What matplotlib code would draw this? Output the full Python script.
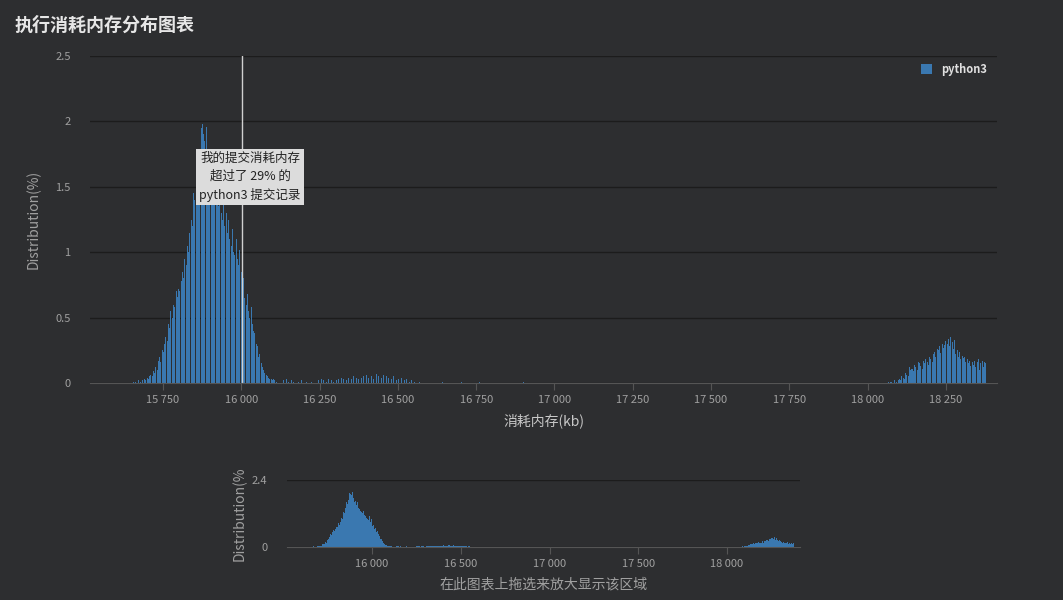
import matplotlib.pyplot as plt
import numpy as np

plt.rcParams['font.family'] = ['Noto Sans CJK SC', 'DejaVu Sans']

# 主峰 (4 kb 一档, 从 15650 开始)
main_start = 15650
main_vals = [0, 0.01, 0, 0.01, 0, 0.02, 0, 0.01, 0.02, 0, 0.03, 0.02, 0.04, 0.03, 0.05,
             0.06, 0.05, 0.09, 0.08, 0.12, 0.1, 0.17, 0.2, 0.16, 0.25, 0.24, 0.3,
             0.35, 0.32, 0.45, 0.42, 0.55, 0.5, 0.6, 0.58, 0.7, 0.66, 0.72, 0.7,
             0.78, 0.85, 0.8, 0.95, 0.9, 1.05, 1.0, 1.15, 1.25, 1.2, 1.45, 1.4,
             1.6, 1.55, 1.75, 1.7, 1.95, 1.98, 1.9, 1.85, 1.96, 1.7, 1.75, 1.6,
             1.55, 1.65, 1.5, 1.45, 1.6, 1.4, 1.35, 1.5, 1.3, 1.25, 1.38, 1.2,
             1.3, 1.15, 1.25, 1.1, 1.05, 1.18, 1.0, 0.98, 1.1, 0.95, 0.9, 1.02,
             0.85, 0.75, 0.8, 0.65, 0.6, 0.68, 0.55, 0.5, 0.58, 0.45, 0.4, 0.38,
             0.3, 0.28, 0.2, 0.22, 0.15, 0.12, 0.1, 0.08, 0.06, 0.05, 0.04, 0.03,
             0.03, 0.02, 0.03, 0.02, 0.01]

# 尾部 (8 kb 一档, 从 16134 开始)
tail_start = 16134
tail_vals = [0.02, 0.03, 0.01, 0.02, 0.01, 0, 0.01, 0.02, 0, 0.01, 0, 0.01, 0, 0,
             0.02, 0.03, 0.02, 0.01, 0.03, 0.02, 0.01, 0.02, 0.03, 0.04, 0.03, 0.02,
             0.04, 0.03, 0.05, 0.04, 0.03, 0.04, 0.05, 0.06, 0.04, 0.05, 0.03, 0.07,
             0.05, 0.04, 0.06, 0.05, 0.04, 0.03, 0.05, 0.02, 0.03, 0.04, 0.02, 0.03,
             0.01, 0.02, 0.01, 0, 0.01]
extra_x = [16640, 16700, 16760, 16900]
extra_vals = [0.01, 0.005, 0.01, 0.005]

# 右侧簇 (4 kb 一档, 从 18060 开始)
right_start = 18060
right_vals = [0, 0.01, 0, 0.01, 0.01, 0, 0.02, 0, 0.01, 0.02,
              0.03, 0.02, 0.05, 0.04, 0.03, 0.08, 0.06, 0.05, 0.12, 0.1, 0.11, 0.09,
              0.14, 0.12, 0.1, 0.16, 0.15, 0.13, 0.11, 0.17, 0.15, 0.18, 0.16, 0.14,
              0.2, 0.18, 0.16, 0.22, 0.24, 0.2, 0.26, 0.25, 0.28, 0.23, 0.3, 0.27,
              0.29, 0.32, 0.3, 0.34, 0.28, 0.35, 0.31, 0.26, 0.33, 0.22, 0.25, 0.2,
              0.24, 0.18, 0.21, 0.19, 0.2, 0.16, 0.18, 0.15, 0.17, 0.13, 0.16, 0.14,
              0.17, 0.12, 0.16, 0.18, 0.1, 0.15, 0.17, 0.12, 0.16, 0.15]

my_memory = 16003
xticks = [15750, 16000, 16250, 16500, 16750, 17000, 17250, 17500, 17750, 18000, 18250]
nav_ticks = [16000, 16500, 17000, 17500, 18000]

mx = main_start + 4 * np.arange(len(main_vals))
tx = tail_start + 8 * np.arange(len(tail_vals))
rx = right_start + 4 * np.arange(len(right_vals))
all_x = np.concatenate([mx, tx, extra_x, rx])
all_y = np.concatenate([main_vals, tail_vals, extra_vals, right_vals])
order = np.argsort(all_x)

bg = '#2d2e30'
bar_c = '#3a78b0'
txt_c = '#a0a0a0'
W, H = 1063, 600

fig = plt.figure(figsize=(W / 100, H / 100), dpi=100, facecolor=bg)

def fmt(v):
    return f'{v:,}'.replace(',', ' ')

# 主图
ax = fig.add_axes([90 / W, 1 - 383 / H, 907 / W, 327 / H], facecolor=bg)
ax.bar(all_x, all_y, width=3.2, color=bar_c, align='edge', label='python3')
ax.set_xlim(15517, 18413)
ax.set_ylim(0, 2.5)
ax.set_yticks([0, 0.5, 1, 1.5, 2, 2.5])
ax.set_yticklabels(['0', '0.5', '1', '1.5', '2', '2.5'])
ax.set_xticks(xticks)
ax.set_xticklabels([fmt(v) for v in xticks])
ax.grid(axis='y', color='#1c1c1c', linewidth=1)
ax.set_axisbelow(True)
for s in ['top', 'right', 'left']:
    ax.spines[s].set_visible(False)
ax.spines['bottom'].set_color('#555555')
ax.tick_params(axis='y', length=0, colors=txt_c, labelsize=8, pad=14)
ax.tick_params(axis='x', colors=txt_c, labelsize=8, color='#555555', length=5)
ax.set_ylabel('Distribution(%)', color=txt_c, fontsize=10, labelpad=10)
ax.set_xlabel('消耗内存(kb)', color='#c8c8c8', fontsize=10, labelpad=6)
ax.axvline(my_memory, color='#d0d0d0', linewidth=1)
ax.text(my_memory + 25, 1.575, '我的提交消耗内存\n超过了 29% 的\npython3 提交记录',
        ha='center', va='center', fontsize=9, color='#222222', linespacing=1.45,
        bbox=dict(boxstyle='square,pad=0.3', facecolor='#dcdcdc', edgecolor='none'))
leg = ax.legend(loc='upper right', frameon=False, fontsize=8, handlelength=1,
                handleheight=1, bbox_to_anchor=(1.0, 1.01))
for t in leg.get_texts():
    t.set_color('#e0e0e0')
    t.set_fontweight('bold')

fig.text(15 / W, 1 - 25 / H, '执行消耗内存分布图表', fontsize=13, fontweight='bold',
         color='#e6e6e6', va='center')

# 下方缩略图
nav = fig.add_axes([287 / W, 1 - 547 / H, 513 / W, 67 / H], facecolor=bg)
nav.fill_between(all_x[order], all_y[order], step='post', color=bar_c, linewidth=0)
nav.set_xlim(15521, 18411)
nav.set_ylim(0, 2.4)
nav.set_yticks([0, 2.4])
nav.set_yticklabels(['0', '2.4'])
nav.set_xticks(nav_ticks)
nav.set_xticklabels([fmt(v) for v in nav_ticks])
nav.grid(axis='y', color='#1c1c1c', linewidth=1)
nav.set_axisbelow(True)
for s in ['top', 'right', 'left']:
    nav.spines[s].set_visible(False)
nav.spines['bottom'].set_color('#555555')
nav.tick_params(axis='y', length=0, colors=txt_c, labelsize=8, pad=14)
nav.tick_params(axis='x', colors=txt_c, labelsize=8, color='#555555', length=5)
nav.set_ylabel('Distribution(%', color=txt_c, fontsize=10, labelpad=4)
nav.set_xlabel('在此图表上拖选来放大显示该区域', color=txt_c, fontsize=10, labelpad=6)

fig.savefig('out.png', dpi=100, facecolor=bg)
